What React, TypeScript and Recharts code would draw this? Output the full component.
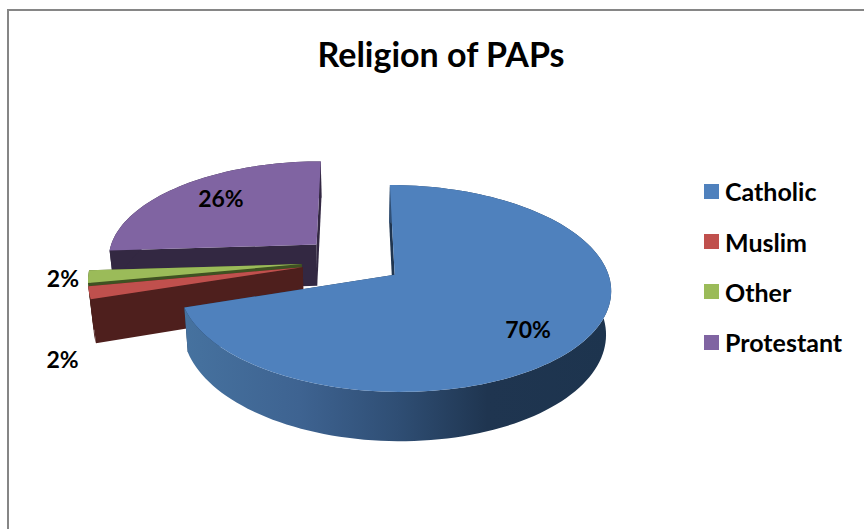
import React from 'react';
import { PieChart, Pie, Legend } from 'recharts';

// drawing order is back to front, the pie runs counter-clockwise from 12 o'clock
const names = ['Protestant', 'Other', 'Muslim', 'Catholic'];
const values = [26, 2, 2, 70];
const topColors = ['#8064A2', '#9BBB59', '#C0504D', '#4F81BD'];
const legendOrder = ['Catholic', 'Muslim', 'Other', 'Protestant'];

const pieData = names.map((name, i) => ({ name, value: values[i], fill: topColors[i] }));

const WIDTH = 864;
const HEIGHT = 529;
const FONT = 'Lato, "Open Sans", sans-serif';

// fake 3D camera for the pie
const TILT = 98 / 210;
const PERSPECTIVE = 0.13;
const DEPTH = 42;
const BOTTOM_SHRINK = 0.02;

const explode: Record<string, number> = { Catholic: 0.235, Muslim: 0.25, Other: 0.25, Protestant: 0.25 };
const wallColors: Record<string, string> = {
  Catholic: 'url(#catholicWall)',
  Muslim: '#4E1F1D',
  Other: '#3F5222',
  Protestant: '#332842',
};
const labelOffsets: Record<string, [number, number]> = {
  Catholic: [3, 10],
  Muslim: [-92, 74],
  Other: [-90, 5],
  Protestant: [1, -4],
};

const rad = (a: number) => (a * Math.PI) / 180;

// project a point of the pie plane, r is a fraction of the radius
const project = (
  cx: number, cy: number, radius: number, name: string, mid: number,
  angle: number, r: number, bottom = false
) => {
  const e = explode[name] ?? 0;
  const u = e * Math.cos(rad(mid)) + r * Math.cos(rad(angle));
  const v = -e * Math.sin(rad(mid)) - r * Math.sin(rad(angle));
  const s = 1 / (1 - PERSPECTIVE * v);
  const shrink = bottom ? 1 - BOTTOM_SHRINK : 1;
  return {
    x: cx + radius * u * s * shrink,
    y: cy + radius * TILT * v * s + (bottom ? DEPTH * s : 0),
  };
};

const toPath = (pts: { x: number; y: number }[]) =>
  pts.map((p, i) => `${i === 0 ? 'M' : 'L'}${p.x.toFixed(2)},${p.y.toFixed(2)}`).join(' ') + ' Z';

const Slice3D = (props: any) => {
  const { cx, cy, outerRadius, startAngle, endAngle, name, fill } = props;
  const mid = (startAngle + endAngle) / 2;
  const at = (a: number, r: number, bottom = false) => project(cx, cy, outerRadius, name, mid, a, r, bottom);

  const steps = Math.max(4, Math.ceil(Math.abs(endAngle - startAngle) / 2));
  const angles = Array.from({ length: steps + 1 }, (_, i) => startAngle + ((endAngle - startAngle) * i) / steps);

  const topArc = angles.map((a) => at(a, 1));
  const bottomArc = angles.map((a) => at(a, 1, true)).reverse();
  const wall = wallColors[name];
  const flatWall = name === 'Catholic' ? '#1F3550' : wall;

  return (
    <g>
      {name === 'Catholic' && (
        <defs>
          <linearGradient id="catholicWall" x1="0" y1="0" x2="1" y2="0">
            <stop offset="0%" stopColor="#46729F" />
            <stop offset="27%" stopColor="#3E6391" />
            <stop offset="50%" stopColor="#2F4E74" />
            <stop offset="71%" stopColor="#1F3550" />
            <stop offset="100%" stopColor="#1D344E" />
          </linearGradient>
        </defs>
      )}
      <path d={toPath([at(0, 0), at(startAngle, 1), at(startAngle, 1, true), at(0, 0, true)])} fill={flatWall} />
      <path d={toPath([at(0, 0), at(endAngle, 1), at(endAngle, 1, true), at(0, 0, true)])} fill={flatWall} />
      <path d={toPath([...topArc, ...bottomArc])} fill={wall} />
      <path d={toPath([at(0, 0), ...topArc])} fill={fill} />
    </g>
  );
};

const renderLabel = (props: any) => {
  const { cx, cy, outerRadius, startAngle, endAngle, name, percent } = props;
  const mid = (startAngle + endAngle) / 2;
  const p = project(cx, cy, outerRadius, name, mid, mid, 0.7);
  const [dx, dy] = labelOffsets[name];
  return (
    <text
      x={p.x + dx}
      y={p.y + dy}
      textAnchor="middle"
      dominantBaseline="central"
      fontFamily={FONT}
      fontWeight={700}
      fontSize={23}
      fill="#000"
    >
      {`${Math.round(percent * 100)}%`}
    </text>
  );
};

const renderLegend = ({ payload }: any) => {
  const items = legendOrder.map((n) => (payload || []).find((p: any) => p.value === n)).filter(Boolean);
  return (
    <div style={{ fontFamily: FONT, fontWeight: 700, fontSize: 25, color: '#000' }}>
      {items.map((item: any) => (
        <div key={item.value} style={{ display: 'flex', alignItems: 'center', height: 50.4 }}>
          <span style={{ display: 'inline-block', width: 15, height: 15, background: item.color, marginRight: 6 }} />
          <span>{item.value}</span>
        </div>
      ))}
    </div>
  );
};

export default function App() {
  return (
    <div
      style={{
        position: 'absolute',
        left: 0,
        top: 0,
        width: WIDTH,
        height: HEIGHT,
        overflow: 'hidden',
        background: '#fff',
      }}
    >
      <div
        style={{
          position: 'absolute',
          left: 7,
          top: 9,
          right: 0,
          bottom: 0,
          borderLeft: '2px solid #868686',
          borderTop: '2px solid #868686',
        }}
      />
      <PieChart width={WIDTH} height={HEIGHT} margin={{ top: 0, right: 0, bottom: 0, left: 0 }}>
        <text
          x={441}
          y={53}
          textAnchor="middle"
          dominantBaseline="central"
          fontFamily={FONT}
          fontWeight={700}
          fontSize={34}
          fill="#000"
        >
          Religion of PAPs
        </text>
        <Pie
          data={pieData}
          dataKey="value"
          nameKey="name"
          cx={354}
          cy={261}
          outerRadius={210}
          startAngle={90}
          endAngle={450}
          stroke="none"
          isAnimationActive={false}
          shape={Slice3D}
          label={renderLabel}
          labelLine={false}
        />
        <Legend
          layout="vertical"
          align="right"
          verticalAlign="top"
          content={renderLegend}
          wrapperStyle={{ left: 704, top: 166, width: 160 }}
        />
      </PieChart>
    </div>
  );
}
